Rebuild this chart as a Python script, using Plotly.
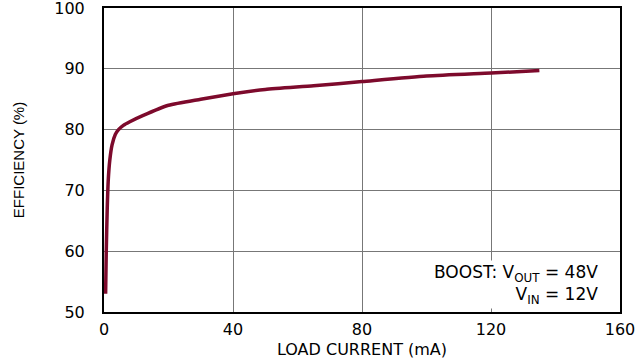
import plotly.graph_objects as go

load_current_ma = [0.5, 0.7, 1.0, 1.3, 1.8, 2.5, 3.5, 4.5, 6, 8, 12, 20, 30, 40, 50, 65, 80, 100, 120, 135]
efficiency_pct = [53.0, 60.0, 67.0, 71.5, 75.0, 77.5, 79.2, 80.0, 80.7, 81.3, 82.3, 84.0, 85.0, 85.9, 86.6, 87.2, 87.9, 88.8, 89.3, 89.7]

x_ticks = [0, 40, 80, 120, 160]
y_ticks = [50, 60, 70, 80, 90, 100]

fig = go.Figure()
fig.add_trace(go.Scatter(
    x=load_current_ma, y=efficiency_pct, mode="lines",
    line=dict(color="#7d0a2c", width=3.5, shape="spline", smoothing=0.6),
    hoverinfo="skip", showlegend=False,
))

font_main = "DejaVu Sans, Verdana, sans-serif"
fig.update_layout(
    width=640, height=360,
    margin=dict(l=104, r=20, t=8, b=48),
    paper_bgcolor="white", plot_bgcolor="white",
    font=dict(family=font_main, size=16, color="black"),
    xaxis=dict(
        range=[0, 160], tickvals=x_ticks, ticks="", showgrid=True,
        gridcolor="#777777", gridwidth=1, showline=True, linecolor="black",
        linewidth=2, mirror=True, zeroline=False, ticklabelstandoff=2,
        automargin=False, ticklabeloverflow="allow",
        title=dict(text="LOAD CURRENT (mA)", font=dict(size=16), standoff=6),
    ),
    yaxis=dict(
        range=[50, 100], tickvals=y_ticks, ticks="", showgrid=True,
        gridcolor="#777777", gridwidth=1, showline=True, linecolor="black",
        linewidth=2, mirror=True, zeroline=False, ticklabelstandoff=14,
        automargin=False, ticklabeloverflow="allow",
        title=dict(text="EFFICIENCY (%)", font=dict(size=15, family="Liberation Sans Narrow, Arial Narrow, Liberation Sans, sans-serif"), standoff=26),
    ),
)

fig.add_annotation(
    xref="paper", yref="paper", x=0.962, y=0.01, xanchor="right", yanchor="bottom",
    align="right", showarrow=False, bgcolor="white",
    text="BOOST: V<sub>OUT</sub> = 48V<br>V<sub>IN</sub> = 12V",
    font=dict(size=17, family=font_main),
)

fig.write_html("out.html", config={"displayModeBar": False},
               post_script="document.body.style.margin='0';")
